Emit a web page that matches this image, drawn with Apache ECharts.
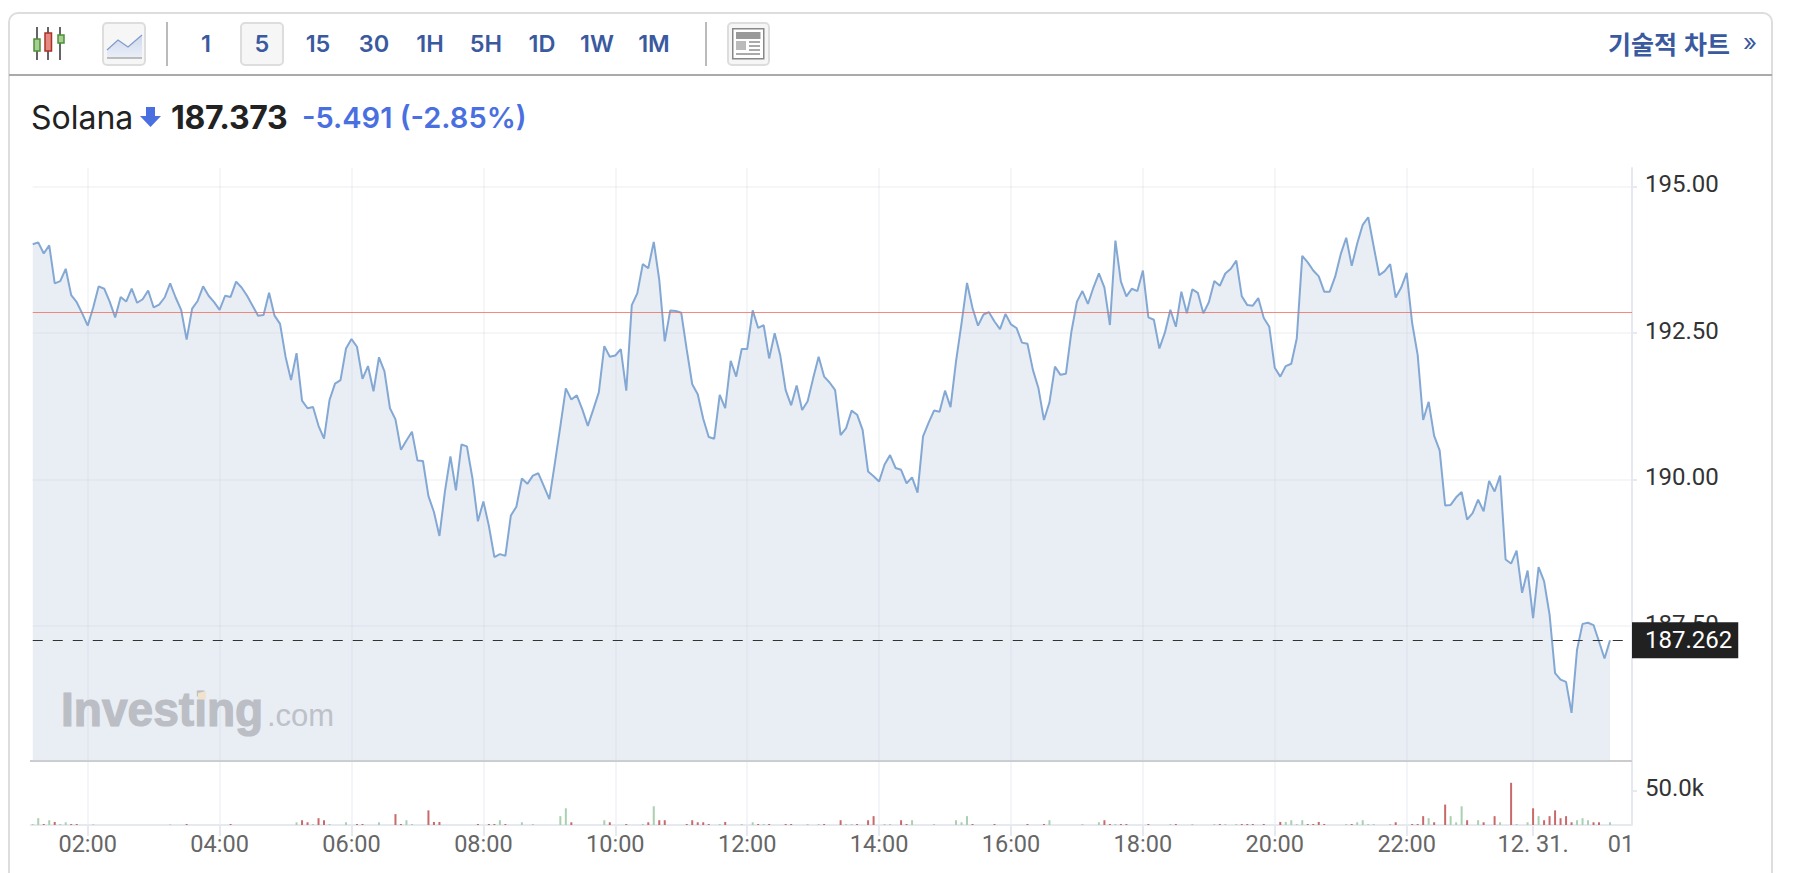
<!DOCTYPE html>
<html lang="ko">
<head>
<meta charset="utf-8">
<title>Solana</title>
<script src="https://cdn.jsdelivr.net/npm/echarts@6/dist/echarts.min.js"></script>
<style>
html,body{margin:0;padding:0;width:1794px;height:873px;overflow:hidden;background:#fff;font-family:Inter,Roboto,sans-serif}
#card{position:absolute;left:8px;top:12px;width:1765px;height:880px;border:2px solid #ddd;border-radius:10px;box-sizing:border-box}
#rule{position:absolute;left:9px;top:74px;width:1763px;height:2px;background:#aaa}
#chart{position:absolute;left:0;top:0;width:1794px;height:873px}
.b{position:absolute;top:22px;height:44px;box-sizing:border-box;border:2px solid #ddd;border-radius:5px}
.s{position:absolute;top:22px;height:44px;width:2px;background:#bbb}
.t{position:absolute;top:43px;transform:translate(-50%,-50%);font:600 23.500px Inter,Roboto,sans-serif;color:#3a5a9f;white-space:nowrap}
svg{position:absolute;overflow:visible}
.h{position:absolute;top:117px;transform:translateY(-50%);white-space:nowrap;font-family:Inter,Roboto,sans-serif;font-size:32px}
</style>
</head>
<body>
<div id="card"></div><div id="rule"></div>
<svg style="left:0;top:0" width="120" height="70">
<path d="M37 27V60M48 27V60M60 27V60" stroke="#333" stroke-width="1.5"/>
<rect x="34" y="39" width="6" height="12" fill="#a5d08f" stroke="#4f8f3a" stroke-width="1.5"/>
<rect x="45" y="33" width="6.500" height="18" fill="#e58a80" stroke="#a8322a" stroke-width="1.5"/>
<rect x="58" y="35" width="6" height="8" fill="#a5d08f" stroke="#4f8f3a" stroke-width="1.5"/>
</svg>
<div class="b" style="left:102px;width:44px;background:#f6f6f6"></div>
<svg style="left:107px;top:33px" width="36" height="26">
<defs><linearGradient id="g" x1="0" y1="0" x2="0" y2="1"><stop offset="0" stop-color="#cfd9ee"/><stop offset="1" stop-color="#eaeef7"/></linearGradient></defs>
<path d="M0 17L11 7L21 14L35 2V25H0Z" fill="url(#g)"/><path d="M0 17L11 7L21 14L35 2" fill="none" stroke="#7f9cc8" stroke-width="1.2"/><path d="M0 25H35" stroke="#aaa" stroke-width="1.5"/>
</svg>
<div class="s" style="left:166px"></div>
<div class="b" style="left:240px;width:44px;background:#f6f6f6"></div>
<div class="t" style="left:206px">1</div><div class="t" style="left:262px">5</div>
<div class="t" style="left:318px">15</div><div class="t" style="left:374px">30</div>
<div class="t" style="left:430px">1H</div><div class="t" style="left:486px">5H</div>
<div class="t" style="left:542px">1D</div><div class="t" style="left:597px">1W</div>
<div class="t" style="left:654px">1M</div>
<div class="s" style="left:705px"></div>
<div class="b" style="left:727px;width:43px;background:#f6f6f6"></div>
<svg style="left:732px;top:28px" width="34" height="32">
<rect x="0.750" y="0.750" width="31" height="30" fill="#fff" stroke="#888" stroke-width="1.5"/>
<rect x="4" y="4" width="24.500" height="7" fill="#999"/><rect x="4" y="13" width="10" height="9" fill="#bbb"/>
<path d="M17 14H28M17 18H28M17 22H28M4 26H28" stroke="#aaa" stroke-width="2"/>
</svg>
<div class="t" style="left:1669px;font:700 25px 'Noto Sans CJK KR',sans-serif">기술적 차트</div>
<div class="t" style="left:1750px;font:400 24px Inter,sans-serif;top:42px">»</div>
<div class="h" style="left:31px;color:#222">Solana</div>
<svg style="left:140px;top:107px" width="22" height="20"><path d="M6 0H15V9H21L10.500 20L0 9H6Z" fill="#4a6fe0"/></svg>
<div class="h" style="left:171px;color:#222;font-weight:700;letter-spacing:-0.3px">187.373</div>
<div class="h" style="left:302px;color:#4a6fe0;font-weight:600;font-size:29px">-5.491 (-2.85%)</div>
<div id="chart"></div>
<script>
const priceTicks = [187.5, 190, 192.5, 195];
const previousClose = 192.864;
const lastPrice = 187.262;
const timeTickIndex = [10,34,58,82,106,130,154,178,202,226,250,273];
const timeTickText = ['02:00','04:00','06:00','08:00','10:00','12:00','14:00','16:00','18:00','20:00','22:00','12. 31.'];
const price = [
194.02,194.05,193.86,194.00,193.35,193.39,193.60,193.15,193.03,192.84,192.63,192.94,193.30,193.26,193.04,192.77,193.12,193.04,193.26,193.02,193.08,193.23,192.94,192.99,
193.11,193.35,193.11,192.90,192.39,192.92,193.05,193.30,193.14,193.03,192.90,193.14,193.12,193.38,193.28,193.14,192.97,192.80,192.81,193.19,192.80,192.66,192.10,191.70,
192.16,191.35,191.22,191.24,190.92,190.70,191.36,191.64,191.70,192.24,192.40,192.27,191.72,191.94,191.51,192.09,191.85,191.22,191.03,190.51,190.67,190.82,190.33,190.32,
189.72,189.45,189.04,189.80,190.40,189.82,190.60,190.57,190.03,189.29,189.63,189.21,188.68,188.73,188.70,189.39,189.54,190.02,189.93,190.07,190.11,189.89,189.67,190.28,
190.91,191.56,191.37,191.44,191.20,190.92,191.20,191.49,192.28,192.10,192.12,192.23,191.52,192.98,193.18,193.68,193.61,194.06,193.41,192.36,192.89,192.88,192.85,192.22,
191.63,191.46,191.04,190.73,190.70,191.45,191.22,192.03,191.76,192.23,192.23,192.89,192.59,192.64,192.07,192.50,192.13,191.53,191.27,191.61,191.19,191.34,191.73,192.10,
191.76,191.66,191.53,190.76,190.88,191.18,191.11,190.85,190.14,190.06,189.97,190.26,190.42,190.20,190.17,189.94,190.04,189.78,190.74,190.97,191.18,191.16,191.52,191.24,
192.02,192.67,193.36,192.93,192.63,192.82,192.86,192.70,192.57,192.83,192.65,192.59,192.34,192.32,191.87,191.56,191.02,191.32,191.93,191.79,191.81,192.53,193.04,193.22,
193.00,193.28,193.52,193.28,192.64,194.08,193.38,193.13,193.26,193.22,193.57,192.77,192.73,192.24,192.51,192.90,192.61,193.21,192.84,193.25,193.19,192.84,193.03,193.39,
193.31,193.52,193.60,193.74,193.13,192.98,192.97,193.10,192.76,192.61,191.91,191.76,191.94,191.98,192.41,193.82,193.71,193.57,193.47,193.21,193.21,193.47,193.85,194.13,
193.65,194.03,194.35,194.48,193.98,193.49,193.56,193.68,193.11,193.28,193.53,192.67,192.13,191.02,191.33,190.75,190.50,189.56,189.57,189.70,189.79,189.32,189.43,189.66,
189.46,189.98,189.80,190.07,188.64,188.57,188.79,188.07,188.45,187.64,188.51,188.27,187.70,186.70,186.59,186.55,186.02,187.10,187.54,187.56,187.52,187.24,186.95,187.26];
const volumeUp = [[0,1500],[1,10000],[3,7000],[5,1500],[6,4000],[11,1000],[25,1000],[48,4000],[51,1500],[54,1500],[57,4000],[63,4000],[68,7000],[69,1500],[85,7000],[89,4000],[91,1500],[96,13000],[97,24500],[104,7000],[111,1500],[113,27500],[125,1500],[129,1500],[131,4000],[133,1500],[141,1500],[143,1500],[148,1500],[149,1500],[155,1500],[156,1500],[160,7000],[164,1500],[168,7000],[169,4000],[170,13000],[185,7000],[191,1500],[194,4000],[197,1500],[207,1500],[211,1500],[215,1500],[217,1500],[219,1500],[228,4500],[229,7000],[230,1500],[231,7000],[239,1500],[241,4000],[242,7000],[243,1500],[244,1500],[247,1500],[254,10000],[258,13000],[259,4000],[260,27500],[263,7000],[267,4000],[270,1500],[272,4000],[274,13000],[281,7000],[282,10000],[283,7000],[287,4000]];
const volumeDown = [[2,1500],[4,4500],[7,1500],[8,1500],[28,1500],[36,1500],[49,7000],[50,4000],[52,10000],[53,7000],[59,1500],[60,1500],[66,16000],[67,1500],[72,21500],[73,4500],[74,4500],[81,1500],[83,1500],[84,1500],[86,1500],[98,4000],[105,4000],[108,1500],[112,4000],[114,7000],[115,7000],[119,1500],[120,7000],[121,4000],[122,4000],[123,1500],[126,4500],[132,1500],[134,1500],[137,1500],[138,1500],[144,1500],[147,7000],[150,1500],[152,7000],[153,13000],[158,7000],[159,1500],[171,1500],[175,1500],[181,1500],[184,1500],[195,7000],[196,1500],[198,1500],[199,1500],[203,1500],[208,1500],[216,1500],[220,1500],[221,1500],[222,1500],[224,1500],[227,4500],[232,1500],[233,1500],[234,4500],[235,1500],[240,1500],[248,4000],[251,1500],[252,1500],[253,13000],[255,4000],[257,30000],[261,7000],[264,4000],[266,13000],[269,62000],[273,24500],[275,7000],[276,13000],[277,21500],[278,10000],[279,13000],[280,4000],[284,4000],[285,4000]];

const slotCount = 292;
const lastLabelIndex = 289;
const categories = Array.from({length: slotCount}, (_, i) => {
  const p = timeTickIndex.indexOf(i);
  return p >= 0 ? timeTickText[p] : (i === lastLabelIndex ? '01' : '');
});
const isTick = i => timeTickIndex.includes(i);
const AXIS = 'Roboto, sans-serif';
const lifted = {a: {fontFamily: AXIS, fontSize: 24, color: '#333', padding: [0, 0, 5, 0]}};
const chart = echarts.init(document.getElementById('chart'), null, {renderer: 'svg'});
chart.setOption({
  animation: false,
  grid: [
    {left: 32.75, right: 162, top: 168, height: 593},
    {left: 32.75, right: 162, top: 761, height: 64}
  ],
  xAxis: [
    {type: 'category', gridIndex: 0, data: categories, boundaryGap: false,
     axisLine: {show: false}, axisTick: {show: false}, axisLabel: {show: false},
     splitLine: {show: true, interval: isTick, lineStyle: {color: 'rgba(10,30,70,0.04)', width: 2}}},
    {type: 'category', gridIndex: 1, data: categories, boundaryGap: false,
     axisLine: {show: false},
     axisTick: {show: true, interval: isTick, length: 11, lineStyle: {color: '#e6e9ef', width: 2}},
     axisLabel: {show: true, interval: (i, v) => v !== '', hideOverlap: false, margin: 7,
       fontFamily: AXIS, fontSize: 23.5, color: '#666'},
     splitLine: {show: true, interval: isTick, lineStyle: {color: '#f4f5f8', width: 2}}}
  ],
  yAxis: [
    {type: 'value', gridIndex: 0, position: 'right', min: 185.2, max: 195.32, scale: true,
     axisLine: {show: true, lineStyle: {color: '#e6e9ef', width: 2}},
     axisTick: {show: true, length: 5, customValues: priceTicks, lineStyle: {color: '#e6e9ef', width: 2}},
     axisLabel: {show: true, customValues: priceTicks, margin: 13, rich: lifted, formatter: v => '{a|' + v.toFixed(2) + '}'},
     splitLine: {show: true, lineStyle: {color: 'rgba(10,30,70,0.04)', width: 2}}},
    {type: 'value', gridIndex: 1, position: 'right', min: 0, max: 94000,
     axisLine: {show: true, lineStyle: {color: '#e6e9ef', width: 2}},
     axisTick: {show: true, length: 5, customValues: [50000], lineStyle: {color: '#e6e9ef', width: 2}},
     axisLabel: {show: true, customValues: [50000], margin: 13, rich: lifted, formatter: v => '{a|' + (v / 1000).toFixed(1) + 'k}'},
     splitLine: {show: false}}
  ],
  graphic: [
    {type: 'rect', z: 1, shape: {x: 30, y: 760, width: 1602, height: 2}, style: {fill: '#cccccc'}},
    {type: 'rect', z: 1, shape: {x: 30, y: 824, width: 1602, height: 2}, style: {fill: '#e6e9ef'}},
    {type: 'text', z: 5, x: 61, y: 685, scaleX: 0.96, style: {text: 'Investing', font: '700 48px "Liberation Sans", sans-serif', fill: '#bbbec4', stroke: '#bbbec4', lineWidth: 1.2}},
    {type: 'polygon', z: 5, shape: {points: [[198, 693], [206, 691], [206, 699], [198, 699]]}, style: {fill: '#f0e2cc'}},
    {type: 'text', z: 5, x: 267, y: 700, style: {text: '.com', font: '400 31px "Liberation Sans", sans-serif', fill: '#bdc1c8'}}
  ],
  series: [
    {type: 'line', xAxisIndex: 0, yAxisIndex: 0, data: price, showSymbol: false, smooth: false, z: 2,
     lineStyle: {color: '#84a8d4', width: 2},
     areaStyle: {color: 'rgba(200,210,228,0.4)', opacity: 1, origin: 'start'},
     markLine: {silent: true, symbol: 'none', animation: false, z: 6, data: [
       {yAxis: previousClose, lineStyle: {color: 'rgba(240,100,85,0.75)', width: 1, type: 'solid'}, label: {show: false}},
       {yAxis: lastPrice, lineStyle: {color: '#333', width: 1.2, type: [10, 10]},
        label: {show: true, position: 'end', distance: 0, formatter: () => lastPrice.toFixed(3), backgroundColor: '#212121', color: '#fff',
          fontFamily: AXIS, fontSize: 24, padding: [7, 6, 5, 13], align: 'left', verticalAlign: 'middle'}}
     ]}},
    {type: 'bar', xAxisIndex: 1, yAxisIndex: 1, data: volumeUp, barWidth: 2, barGap: '-100%', z: 3, itemStyle: {color: '#a9d0b0'}},
    {type: 'bar', xAxisIndex: 1, yAxisIndex: 1, data: volumeDown, barWidth: 2, barGap: '-100%', z: 3, itemStyle: {color: '#c96a6a'}}
  ]
});
</script>
</body>
</html>
